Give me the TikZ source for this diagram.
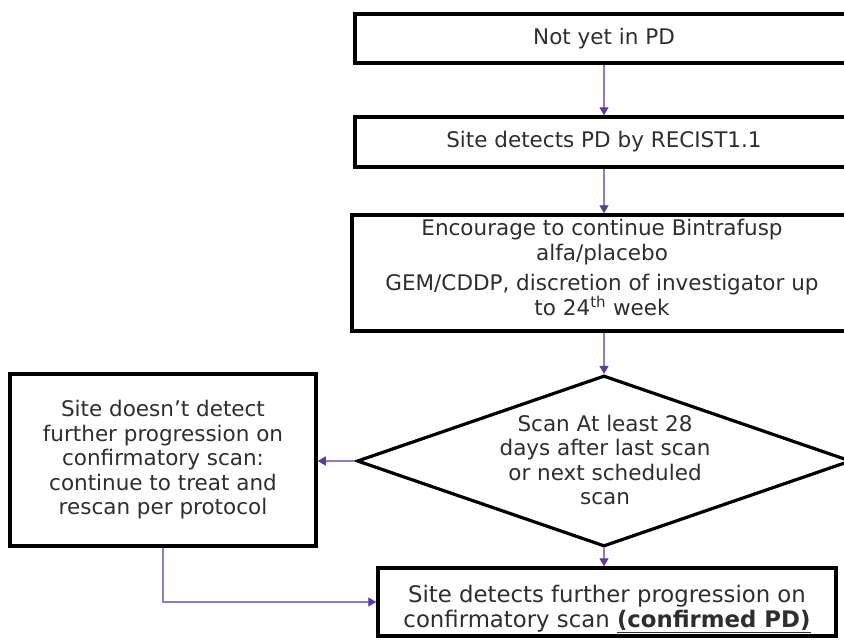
\documentclass[tikz,border=0pt]{standalone}
\usepackage{fontspec}
\setmainfont{DejaVu Sans}
\usetikzlibrary{shapes.geometric,arrows.meta}
\definecolor{conncol}{HTML}{8F7CC8}
\definecolor{tipcol}{HTML}{5A3A9E}
\definecolor{txtcol}{HTML}{2E2E2E}
\newcommand{\dgfont}{\fontsize{21.5pt}{24.5pt}\selectfont}
\newcommand{\dgfontb}{\fontsize{22.8pt}{25pt}\selectfont}
\begin{document}
\begin{tikzpicture}[x=1pt,y=-1pt,
  box/.style={draw=black,line width=3.5pt,fill=white,inner sep=0pt,align=center,text=txtcol,font=\dgfont},
  label text/.style={align=center,text=txtcol,font=\dgfont,inner sep=0pt},
  conn/.style={draw=conncol,line width=1.3pt,-{Triangle[length=8pt,width=9pt,color=tipcol,fill=tipcol]}}]
\useasboundingbox (0,0) rectangle (844,640);
\node[box,minimum width=498pt,minimum height=49pt] (b1) at (604,38.5) {Not yet in PD};
\node[box,minimum width=498pt,minimum height=50pt] (b2) at (604,142) {Site detects PD by RECIST1.1};
\node[box,minimum width=504pt,minimum height=116pt] (b3) at (604,273) {};
\node[label text,anchor=north] (b3t) at (602,219) {Encourage to continue Bintrafusp\\alfa/placebo\\[6pt]GEM/CDDP, discretion of investigator up\\to 24\textsuperscript{th} week};
\node[draw=black,line width=3.2pt,diamond,minimum width=494pt,minimum height=171pt,inner sep=0pt,fill=white] (dm) at (604,461) {};
\node[label text] (dmt) at (605,460) {Scan At least 28\\days after last scan\\or next scheduled\\scan};
\node[box,minimum width=306pt,minimum height=172pt] (lb) at (163,460) {Site doesn’t detect\\further progression on\\confirmatory scan:\\continue to treat and\\rescan per protocol};
\node[box,minimum width=458pt,minimum height=68pt] (bb) at (607,602) {};
\node[label text,font=\dgfontb] (bbt) at (607,609) {Site detects further progression on\\confirmatory scan \underline{\textbf{(confirmed PD)}}};
\draw[conn] (b1) -- (b2);
\draw[conn] (b2) -- (b3);
\draw[conn] (b3) -- (dm);
\draw[conn] (dm.west) -- (lb.east |- dm.west);
\draw[conn] (dm.south) -- (dm.south |- bb.north);
\draw[conn] (lb.south) |- (bb.west);
\end{tikzpicture}
\end{document}
